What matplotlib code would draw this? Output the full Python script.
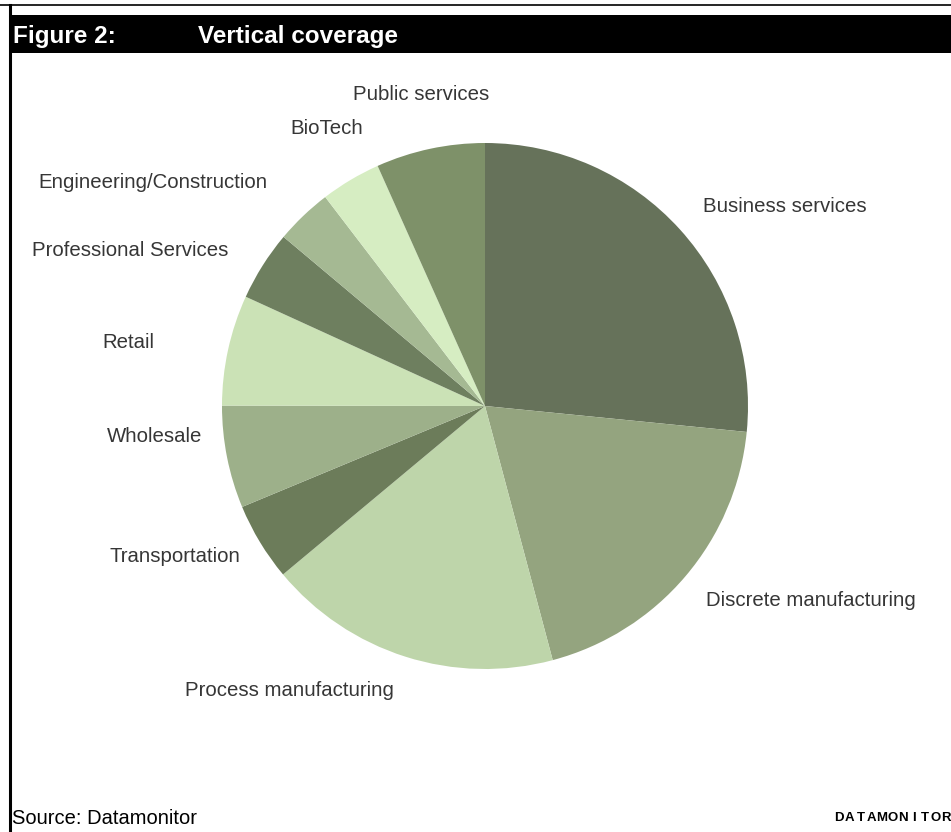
import matplotlib
matplotlib.use('Agg')
import matplotlib.pyplot as plt
from matplotlib.patches import Rectangle

plt.rcParams['font.family'] = ['Liberation Sans', 'DejaVu Sans']

# share of vendors per vertical (%), clockwise from 12 o'clock
sectors = ['Business services', 'Discrete manufacturing', 'Process manufacturing',
           'Transportation', 'Wholesale', 'Retail', 'Professional Services',
           'Engineering/Construction', 'BioTech', 'Public services']
shares = [26.6, 19.3, 18.1, 4.8, 6.3, 6.8, 4.3, 3.5, 3.7, 6.7]
colours = ['#66725a', '#94a47f', '#bed5aa', '#6c7c5a', '#9db08a',
           '#cbe2b6', '#6e7f5f', '#a5b993', '#d6edc2', '#7e9169']

# label anchor (left edge x, centre y) in page pixels, y measured from the top
label_pos = {
    'Business services': (703, 207),
    'Discrete manufacturing': (706, 600),
    'Process manufacturing': (185, 691),
    'Transportation': (109, 557),
    'Wholesale': (107, 437),
    'Retail': (102, 342),
    'Professional Services': (32, 251),
    'Engineering/Construction': (38, 183),
    'BioTech': (290, 128),
    'Public services': (353, 95),
}

W, H = 951, 832
fig = plt.figure(figsize=(W / 100, H / 100), dpi=100)
ax = fig.add_axes([0, 0, 1, 1])

# page frame and header bar
ax.plot([0, W], [H - 4.5, H - 4.5], color='black', lw=1.2)
ax.plot([10, 10], [0, H - 4.5], color='black', lw=2.2)
ax.add_patch(Rectangle((10, H - 53), W - 10, 38, color='black', lw=0))
ax.text(13, H - 37, 'Figure 2:', color='white', fontsize=17.5,
        fontweight='bold', va='center')
ax.text(198, H - 37, 'Vertical coverage', color='white', fontsize=17.5,
        fontweight='bold', va='center')

ax.pie(shares, colors=colours, startangle=90, counterclock=False,
       center=(485, H - 406), radius=263, frame=True,
       wedgeprops=dict(linewidth=0))
ax.set_xlim(0, W)
ax.set_ylim(0, H)
ax.set_aspect('equal')
ax.axis('off')

for name in sectors:
    x, y = label_pos[name]
    ax.text(x, H - y, name, fontsize=14.7, color='#363636', va='center', ha='left')

ax.text(12, H - 818, 'Source: Datamonitor', fontsize=14.5, color='black', va='center')

# spaced-out logotype, one letter at a time on an even pitch
for i, ch in enumerate('DATAMONITOR'):
    ax.text(839 + i * 10.7, H - 818, ch, fontsize=9.5, fontweight='bold',
            color='black', va='center', ha='center')

plt.savefig('out.png', dpi=100)
